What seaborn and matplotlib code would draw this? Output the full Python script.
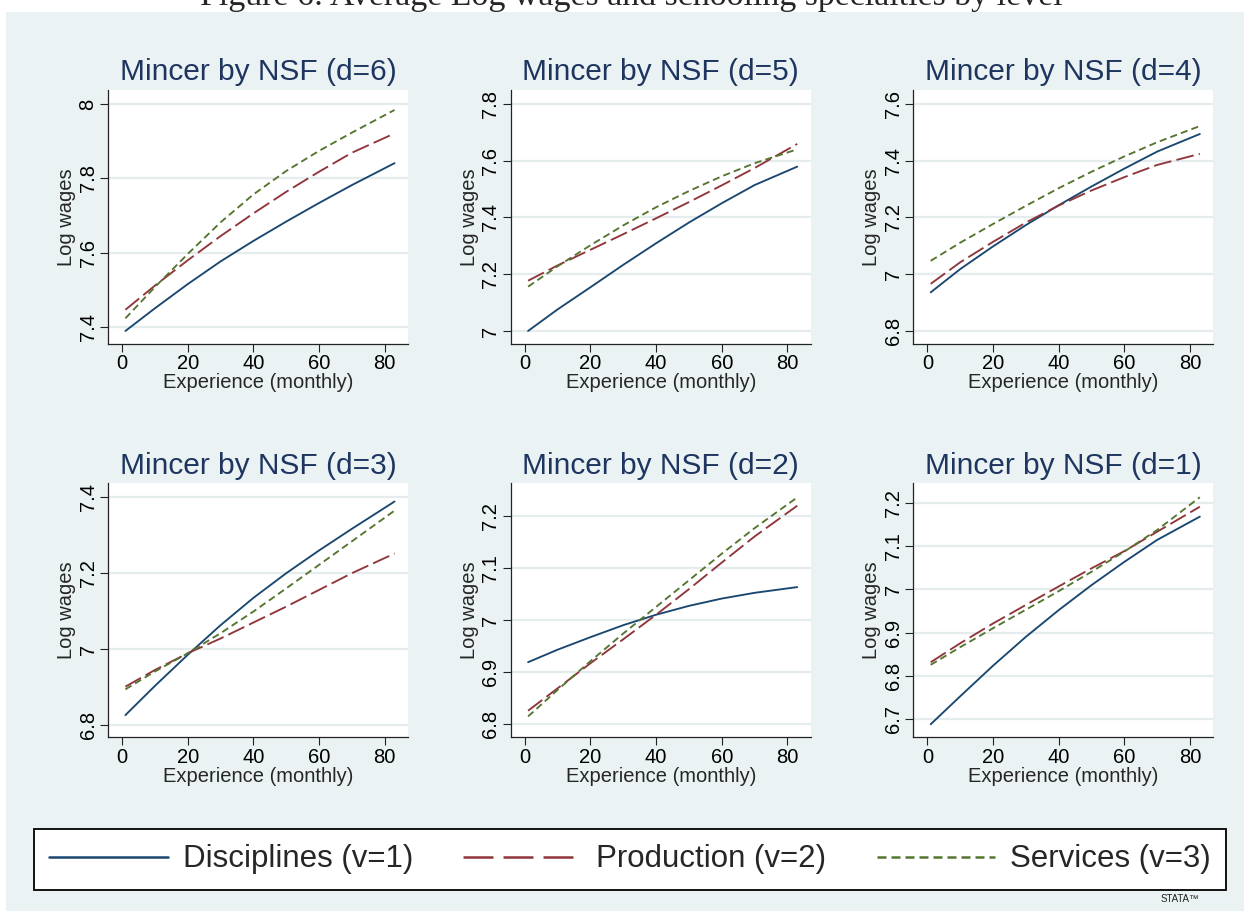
import numpy as np
import pandas as pd
import matplotlib
matplotlib.use("Agg")
import matplotlib.pyplot as plt
from matplotlib.lines import Line2D
import seaborn as sns

# ---------------- data ----------------
experience = [1, 10, 20, 30, 40, 50, 60, 70, 83]
series_names = ["Disciplines (v=1)", "Production (v=2)", "Services (v=3)"]
panel_titles = ["Mincer by NSF (d=6)", "Mincer by NSF (d=5)", "Mincer by NSF (d=4)",
                "Mincer by NSF (d=3)", "Mincer by NSF (d=2)", "Mincer by NSF (d=1)"]

# d=6
d6_disc = [7.390, 7.451, 7.516, 7.577, 7.632, 7.684, 7.734, 7.782, 7.841]
d6_prod = [7.447, 7.512, 7.580, 7.645, 7.706, 7.764, 7.818, 7.869, 7.921]
d6_serv = [7.424, 7.508, 7.597, 7.682, 7.757, 7.820, 7.874, 7.923, 7.984]
# d=5
d5_disc = [7.000, 7.076, 7.154, 7.233, 7.309, 7.382, 7.450, 7.514, 7.579]
d5_prod = [7.177, 7.231, 7.286, 7.341, 7.397, 7.454, 7.513, 7.574, 7.659]
d5_serv = [7.156, 7.228, 7.302, 7.372, 7.436, 7.493, 7.545, 7.591, 7.640]
# d=4
d4_disc = [6.936, 7.018, 7.098, 7.173, 7.243, 7.309, 7.372, 7.432, 7.494]
d4_prod = [6.966, 7.042, 7.114, 7.182, 7.242, 7.295, 7.342, 7.385, 7.424]
d4_serv = [7.047, 7.111, 7.177, 7.241, 7.303, 7.361, 7.415, 7.465, 7.522]
# d=3
d3_disc = [6.826, 6.903, 6.985, 7.063, 7.135, 7.200, 7.260, 7.317, 7.389]
d3_prod = [6.901, 6.945, 6.989, 7.028, 7.070, 7.112, 7.156, 7.200, 7.252]
d3_serv = [6.894, 6.941, 6.989, 7.042, 7.099, 7.160, 7.222, 7.284, 7.365]
# d=2
d2_disc = [6.919, 6.943, 6.967, 6.990, 7.010, 7.027, 7.041, 7.052, 7.063]
d2_prod = [6.826, 6.869, 6.917, 6.963, 7.010, 7.059, 7.110, 7.160, 7.219]
d2_serv = [6.815, 6.866, 6.921, 6.974, 7.025, 7.076, 7.127, 7.176, 7.235]
# d=1
d1_disc = [6.687, 6.752, 6.823, 6.890, 6.952, 7.010, 7.064, 7.115, 7.169]
d1_prod = [6.831, 6.875, 6.921, 6.964, 7.007, 7.049, 7.089, 7.134, 7.192]
d1_serv = [6.825, 6.866, 6.910, 6.953, 6.996, 7.041, 7.088, 7.138, 7.214]

panel_series = [
    (d6_disc, d6_prod, d6_serv),
    (d5_disc, d5_prod, d5_serv),
    (d4_disc, d4_prod, d4_serv),
    (d3_disc, d3_prod, d3_serv),
    (d2_disc, d2_prod, d2_serv),
    (d1_disc, d1_prod, d1_serv),
]

y_ticks = [
    [7.4, 7.6, 7.8, 8.0],
    [7.0, 7.2, 7.4, 7.6, 7.8],
    [6.8, 7.0, 7.2, 7.4, 7.6],
    [6.8, 7.0, 7.2, 7.4],
    [6.8, 6.9, 7.0, 7.1, 7.2],
    [6.7, 6.8, 6.9, 7.0, 7.1, 7.2],
]
y_limits = [
    (7.355, 8.0376),
    (6.954, 7.849),
    (6.754, 7.649),
    (6.7675, 7.437),
    (6.775, 7.262),
    (6.6567, 7.2464),
]
x_ticks = [0, 20, 40, 60, 80]

# ---------------- styling ----------------
sns.set_style("ticks")
plt.rcParams["font.family"] = ["Liberation Sans", "DejaVu Sans"]

BG = "#EAF2F3"
colors = {series_names[0]: "#1A476F", series_names[1]: "#90353B", series_names[2]: "#55752F"}
dashes = {series_names[0]: "", series_names[1]: (9.5, 2.8), series_names[2]: (3.8, 2.2)}
legend_dashes = {series_names[0]: None, series_names[1]: (12, 4), series_names[2]: (3.6, 2.0)}
TITLE_COLOR = "#1E3560"

W, H = 1244, 911
fig = plt.figure(figsize=(W / 100, H / 100), dpi=100)
fig.patch.set_facecolor("white")

# light Stata-like graph region (drawn beneath the axes)
bg = plt.Rectangle((6 / W, 0), 1 - 6 / W, 1 - 12 / H, transform=fig.transFigure,
                   facecolor=BG, edgecolor="none", zorder=-10)
fig.patches.append(bg)

fig.text(631 / W, 1 - 5 / H, "Figure 6: Average Log wages and schooling specialties by level",
         ha="center", va="baseline", fontsize=24.4, family=["Liberation Serif", "DejaVu Serif"],
         zorder=5)

col_left = [108, 510.7, 913.3]
row_top = [90, 483.3]
ax_w, ax_h = 300, 254

for i in range(6):
    r, c = divmod(i, 3)
    left = col_left[c] / W
    bottom = 1 - (row_top[r] + ax_h) / H
    ax = fig.add_axes([left, bottom, ax_w / W, ax_h / H], zorder=1)
    ax.set_facecolor("white")

    disc, prod, serv = panel_series[i]
    df = pd.DataFrame({
        "exp": experience * 3,
        "logwage": disc + prod + serv,
        "series": [series_names[0]] * len(experience) + [series_names[1]] * len(experience)
                  + [series_names[2]] * len(experience),
    })
    sns.lineplot(data=df, x="exp", y="logwage", hue="series", style="series",
                 palette=colors, dashes=dashes, hue_order=series_names, style_order=series_names,
                 linewidth=1.35, ax=ax, legend=False)

    ax.set_xlim(-4.3, 87.1)
    ax.set_ylim(*y_limits[i])
    ax.set_xticks(x_ticks)
    ax.set_yticks(y_ticks[i])
    ax.set_yticklabels(["%g" % v for v in y_ticks[i]], rotation=90, va="center")
    ax.set_xticklabels([str(v) for v in x_ticks])
    ax.yaxis.grid(True, color="#E4ECEE", linewidth=1.6)
    ax.xaxis.grid(False)
    ax.set_axisbelow(True)
    for s in ["top", "right"]:
        ax.spines[s].set_visible(False)
    for s in ["left", "bottom"]:
        ax.spines[s].set_color("#222222")
        ax.spines[s].set_linewidth(0.9)
    ax.tick_params(axis="both", direction="out", length=5.5, width=0.8, color="#222222",
                   labelsize=14.5, labelcolor="black", pad=2)
    ax.set_xlabel("Experience (monthly)", fontsize=14.5, labelpad=0)
    ax.set_ylabel("Log wages", fontsize=14.5, labelpad=2)
    ax.set_title(panel_titles[i], fontsize=21.5, color=TITLE_COLOR, pad=7)

handles = [Line2D([], [], color=colors[n], linewidth=1.8,
                  linestyle="-" if legend_dashes[n] is None else (0, legend_dashes[n]))
           for n in series_names]
leg = fig.legend(handles, series_names, loc="center", bbox_to_anchor=(630 / W, 1 - 859.5 / H),
                 ncol=3, fontsize=22.5, frameon=True, fancybox=False, framealpha=1,
                 edgecolor="black", facecolor="white", handlelength=3.8, handletextpad=0.47,
                 columnspacing=1.6, borderpad=0.5, borderaxespad=0)
leg.get_frame().set_linewidth(1.3)

fig.text(1180 / W, 1 - 899 / H, "STATA\u2122", ha="center", va="center", fontsize=7, color="#222222")

fig.savefig("out.png", dpi=100, facecolor=fig.get_facecolor())
